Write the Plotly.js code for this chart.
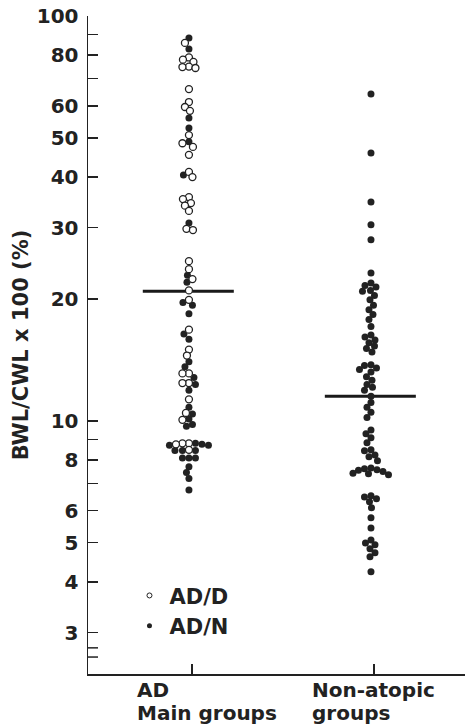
<!DOCTYPE html>
<html>
<head>
<meta charset="utf-8">
<script src="https://cdn.plot.ly/plotly-3.0.1.min.js"></script>
<style>html,body{margin:0;padding:0;background:#fff;}#chart{width:469px;height:726px;}</style>
</head>
<body>
<div id="chart"></div>
<script>
// ---- Data ----
const categories = ['AD', 'Non-atopic'];
const categoryLabels = [['AD', 'Main groups'], ['Non-atopic', 'groups']];
const seriesNames = ['AD/D', 'AD/N'];

// AD group, subgroup AD/D (open circles), BWL/CWL x 100 (%)
const adD = [85.8, 79, 78, 77, 75, 74.8, 74.4, 66.0, 61.3, 59.6, 58.3, 50.8, 48.5, 47.5, 45.4,
  41.2, 40.0, 35.7, 35.3, 34.5, 34.0, 33.0, 29.8, 29.6, 24.8, 23.7, 22.4, 21.0, 19.9, 16.8,
  15.0, 14.5, 13.1, 13.1, 12.4, 12.4, 11.3, 10.46, 10.06, 8.8, 8.8, 8.75, 8.48];
// AD group, subgroup AD/N (filled dots)
const adN = [88.2, 82.9, 56.0, 52.9, 48.9, 40.5, 30.8, 22.9, 22.0, 19.6, 19.3, 18.4, 16.4, 15.9,
  14.0, 13.6, 12.8, 12.3, 11.9, 10.8, 10.4, 10.1, 9.8, 9.7, 8.8, 8.75, 8.7, 8.7, 8.45, 8.45,
  8.45, 8.1, 8.1, 8.1, 7.7, 7.45, 7.2, 6.75];
// Non-atopic group (filled dots)
const nonAtopic = [64.2, 45.9, 34.7, 30.5, 28.0, 23.2,
  21.9, 21.6, 21.4, 21.0, 20.9, 20.4, 19.9, 19.3, 18.8, 18.3, 17.8, 17.1,
  16.3, 16.1, 15.85, 15.6, 15.3, 15.1, 14.8,
  13.75, 13.7, 13.5, 13.4, 13.2,
  12.85, 12.6, 12.3, 12.1,
  11.9, 11.5, 11.1,
  10.8, 10.5, 10.2,
  9.5, 9.29, 9.08, 8.83,
  8.48, 8.44, 8.24, 8.15, 7.97,
  7.65, 7.62, 7.57, 7.55, 7.50, 7.42, 7.40, 7.36,
  6.53, 6.49, 6.42, 6.31,
  6.10, 5.76, 5.44,
  5.08, 4.99, 4.94, 4.83, 4.72, 4.62,
  4.24];
// Group medians
const medians = [20.9, 11.5];

const tickVals = [3, 4, 5, 6, 7, 8, 9, 10, 20, 30, 40, 50, 60, 70, 80, 90, 100];
const tickText = ['3', '4', '5', '6', '', '8', '', '10', '20', '30', '40', '50', '60', '', '80', '', '100'];

// ---- Layout constants ----
const W = 469, H = 726;
const M = {l: 88, r: 4, t: 16, b: 52};
const plotW = W - M.l - M.r, plotH = H - M.t - M.b;
const Y_RANGE = [Math.log10(2.37), 2];
const X_RANGE = [-0.571, 1.5];
const pxPerX = plotW / (X_RANGE[1] - X_RANGE[0]);
const INK = '#222222';
const FONT = 'DejaVu Sans, Arial, sans-serif';
const MS = 7;        // marker size
const COLL = 6.2;    // collision diameter for swarm packing
const SWARM_SHIFT = -3 / pxPerX; // dots sit slightly left of the tick

function yPix(v) {
  return M.t + plotH * (Y_RANGE[1] - Math.log10(v)) / (Y_RANGE[1] - Y_RANGE[0]);
}

// deterministic beeswarm in pixel space
function swarm(points) {
  const sorted = points.slice().sort((a, b) => b.v - a.v);
  const placed = [];
  sorted.forEach(p => {
    const py = yPix(p.v);
    let off = 0;
    for (let k = 0; k < 400; k++) {
      const cand = (k % 2 === 0 ? 1 : -1) * Math.ceil(k / 2) * 0.5;
      let ok = true;
      for (const q of placed) {
        const dx = cand - q.ox, dy = py - q.py;
        if (dx * dx + dy * dy < COLL * COLL) { ok = false; break; }
      }
      if (ok) { off = cand; break; }
    }
    placed.push({v: p.v, kind: p.kind, py: py, ox: off});
  });
  return placed;
}

const adPlaced = swarm(adD.map(v => ({v, kind: 'D'})).concat(adN.map(v => ({v, kind: 'N'}))));
const naPlaced = swarm(nonAtopic.map(v => ({v, kind: 'N'})));

function pick(placed, kind, catIdx) {
  const sel = placed.filter(p => p.kind === kind);
  return {x: sel.map(p => catIdx + SWARM_SHIFT + p.ox / pxPerX), y: sel.map(p => p.v)};
}

const adDPts = pick(adPlaced, 'D', 0);
const adNPts = pick(adPlaced, 'N', 0);
const naPts = pick(naPlaced, 'N', 1);

const traces = [
  {type: 'scatter', mode: 'markers', x: adNPts.x, y: adNPts.y, showlegend: false, hoverinfo: 'y',
   marker: {symbol: 'circle', size: MS, color: INK, line: {width: 0}}},
  {type: 'scatter', mode: 'markers', x: naPts.x, y: naPts.y, showlegend: false, hoverinfo: 'y',
   marker: {symbol: 'circle', size: MS, color: INK, line: {width: 0}}},
  {type: 'scatter', mode: 'markers', x: adDPts.x, y: adDPts.y, showlegend: false, hoverinfo: 'y',
   marker: {symbol: 'circle', size: MS, color: '#ffffff', line: {width: 1.3, color: INK}}},
  // legend entries
  {type: 'scatter', mode: 'markers', x: [null], y: [null], name: seriesNames[0], showlegend: true,
   marker: {symbol: 'circle', size: 5, color: '#ffffff', line: {width: 1, color: INK}}},
  {type: 'scatter', mode: 'markers', x: [null], y: [null], name: seriesNames[1], showlegend: true,
   marker: {symbol: 'circle', size: 5, color: INK, line: {width: 0}}}
];

const shapes = medians.map((m, i) => ({
  type: 'line', xref: 'x', yref: 'y', x0: i - 0.27, x1: i + 0.23, y0: m, y1: m,
  layer: 'below', line: {color: '#1a1a1a', width: 3}
}));
// axis break marks
[2.75, 2.61].forEach(v => shapes.push({
  type: 'line', xref: 'paper', yref: 'y', x0: 0, x1: 10 / plotW, y0: v, y1: v,
  line: {color: INK, width: 1.5}
}));

const labelX = [-0.313, 0.648];
const annotations = [];
categoryLabels.forEach((lines, i) => {
  lines.forEach((t, j) => {
    annotations.push({
      xref: 'x', yref: 'paper', x: labelX[i], y: 0, xanchor: 'left', yanchor: 'middle',
      yshift: -16 - 23 * j, text: t, showarrow: false,
      font: {family: FONT, size: 20, color: INK, weight: 'bold'}
    });
  });
});

const layout = {
  width: W, height: H,
  margin: M,
  paper_bgcolor: '#ffffff', plot_bgcolor: '#ffffff',
  showlegend: true,
  legend: {x: 0.11, y: 0.15, xanchor: 'left', yanchor: 'top', bgcolor: 'rgba(0,0,0,0)',
    font: {family: FONT, size: 21, color: INK, weight: 'bold'}, tracegroupgap: 0},
  xaxis: {range: X_RANGE, showgrid: false, zeroline: false, showline: true, linecolor: INK, linewidth: 1.5,
    ticks: 'inside', ticklen: 10, tickwidth: 1.5, tickcolor: INK, tickvals: [0, 1], showticklabels: false,
    fixedrange: true},
  yaxis: {type: 'log', range: Y_RANGE, showgrid: false, zeroline: false, showline: true, linecolor: INK, linewidth: 1.5,
    ticks: 'inside', ticklen: 10, tickwidth: 1.5, tickcolor: INK,
    tickvals: tickVals, ticktext: tickText, ticklabelstandoff: 4,
    tickfont: {family: FONT, size: 20, color: INK, weight: 'bold'},
    title: {text: 'BWL/CWL x 100 (%)', standoff: 2, font: {family: FONT, size: 21, color: INK, weight: 'bold'}},
    fixedrange: true},
  shapes: shapes,
  annotations: annotations
};

Plotly.newPlot('chart', traces, layout, {displayModeBar: false, staticPlot: true});
</script>
</body>
</html>
